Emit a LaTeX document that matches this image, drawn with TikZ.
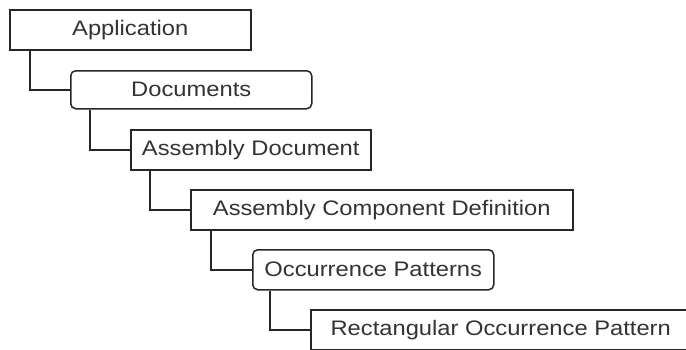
\documentclass[tikz,border=0pt]{standalone}
\usepackage{fontspec}
\setmainfont[FakeStretch=1.13]{Liberation Sans}
\begin{document}
\begin{tikzpicture}[x=1pt,y=-1pt,
  box/.style={draw=black!85, line width=1.5pt, fill=white, minimum height=40pt,
    inner sep=0pt, text=black!80, font=\fontsize{21}{24}\selectfont, anchor=north west},
  roundbox/.style={box, rounded corners=5pt},
  link/.style={draw=black!85, line width=1.5pt}]
\useasboundingbox (0,0) rectangle (686,349);
\clip (0,0) rectangle (686,349);
% tree of document objects, each level indented to the right
\node[box, minimum width=241pt] (app) at (9,9) {Application};
\node[roundbox, minimum width=241pt, minimum height=38pt] (docs) at (70,70) {Documents};
\node[box, minimum width=240pt] (asmdoc) at (130,129) {Assembly Document};
\node[box, minimum width=382pt] (compdef) at (190,189) {Assembly Component Definition};
\node[roundbox, minimum width=241pt] (occpat) at (252,249) {Occurrence Patterns};
\node[box, minimum width=380pt] (rectpat) at (310,309) {Rectangular Occurrence Pattern};
% elbow connectors from parent to child
\draw[link] ([xshift=21pt]app.south west) |- (docs.west);
\draw[link] ([xshift=20pt]docs.south west) |- (asmdoc.west);
\draw[link] ([xshift=20pt]asmdoc.south west) |- (compdef.west);
\draw[link] ([xshift=21pt]compdef.south west) |- (occpat.west);
\draw[link] ([xshift=18pt]occpat.south west) |- (rectpat.west);
\end{tikzpicture}
\end{document}
